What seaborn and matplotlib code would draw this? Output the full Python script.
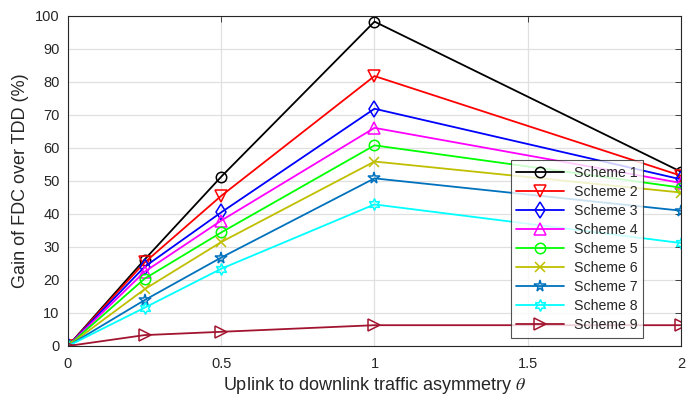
import matplotlib
matplotlib.use("Agg")
import matplotlib.pyplot as plt
import seaborn as sns
import pandas as pd

theta = [0, 0.25, 0.5, 1, 2]
scheme1 = [0, 26.2, 51.3, 98.3, 52.8]
scheme2 = [0, 25.3, 45.5, 81.8, 51.6]
scheme3 = [0, 24.0, 40.5, 71.9, 50.5]
scheme4 = [0, 22.5, 38.0, 66.1, 49.4]
scheme5 = [0, 20.4, 34.4, 60.8, 48.0]
scheme6 = [0, 17.2, 31.5, 55.9, 46.5]
scheme7 = [0, 13.9, 26.8, 50.8, 41.0]
scheme8 = [0, 11.6, 23.4, 42.9, 31.2]
scheme9 = [0, 3.3, 4.3, 6.3, 6.3]
labels = [f"Scheme {i}" for i in range(1, 10)]
series = [scheme1, scheme2, scheme3, scheme4, scheme5, scheme6, scheme7, scheme8, scheme9]

colors = ["#000000", "#ff0000", "#0000ff", "#ff00ff", "#00ff00",
          "#bfbf00", "#0072bd", "#00ffff", "#a2142f"]
markers = ["o", "v", "d", "^", "o", "x", "*", (6, 1, 0), ">"]
msizes = [7.5, 8.5, 8.5, 8.5, 7.5, 7.5, 8.5, 8.5, 8.5]

sns.set_style("white")
plt.rcParams["font.family"] = ["Liberation Sans", "DejaVu Sans"]
plt.rcParams["mathtext.fontset"] = "stix"

fig = plt.figure(figsize=(6.86, 3.97), dpi=100)
ax = fig.add_axes([0.0991, 0.1285, 0.8936, 0.8312])

df = pd.DataFrame({"theta": theta})
for lab, vals, c, m, ms in zip(labels, series, colors, markers, msizes):
    df[lab] = vals
    sns.lineplot(data=df, x="theta", y=lab, ax=ax, color=c, marker=m,
                 markersize=ms, markerfacecolor="none", markeredgecolor=c,
                 markeredgewidth=1.1, linewidth=1.3, label=lab)

ax.set_xlim(0, 2)
ax.set_ylim(0, 100)
ax.set_xticks([0, 0.5, 1, 1.5, 2])
ax.set_xticklabels(["0", "0.5", "1", "1.5", "2"])
ax.set_yticks(range(0, 101, 10))
ax.grid(True, color="#e0e0e0", linewidth=0.9)
ax.set_axisbelow(True)
for s in ax.spines.values():
    s.set_color("#262626")
    s.set_linewidth(0.8)
ax.tick_params(direction="in", length=4, width=0.6, colors="#262626",
               labelsize=10.5, top=True, right=True)
ax.tick_params(axis="x", pad=8)
ax.tick_params(axis="y", pad=6)
ax.set_xlabel(r"Uplink to downlink traffic asymmetry $\theta$", fontsize=13,
              color="#262626", labelpad=3)
ax.set_ylabel("Gain of FDC over TDD (%)", fontsize=13, color="#262626")

leg = ax.legend(loc="lower left", bbox_to_anchor=(0.722, 0.024), fontsize=10.2,
                frameon=True, fancybox=False, edgecolor="#262626",
                handlelength=3.4, labelspacing=0.36, borderpad=0.4,
                handletextpad=0.65, borderaxespad=0)
leg.get_frame().set_linewidth(0.8)

fig.savefig("out.png", dpi=100)
